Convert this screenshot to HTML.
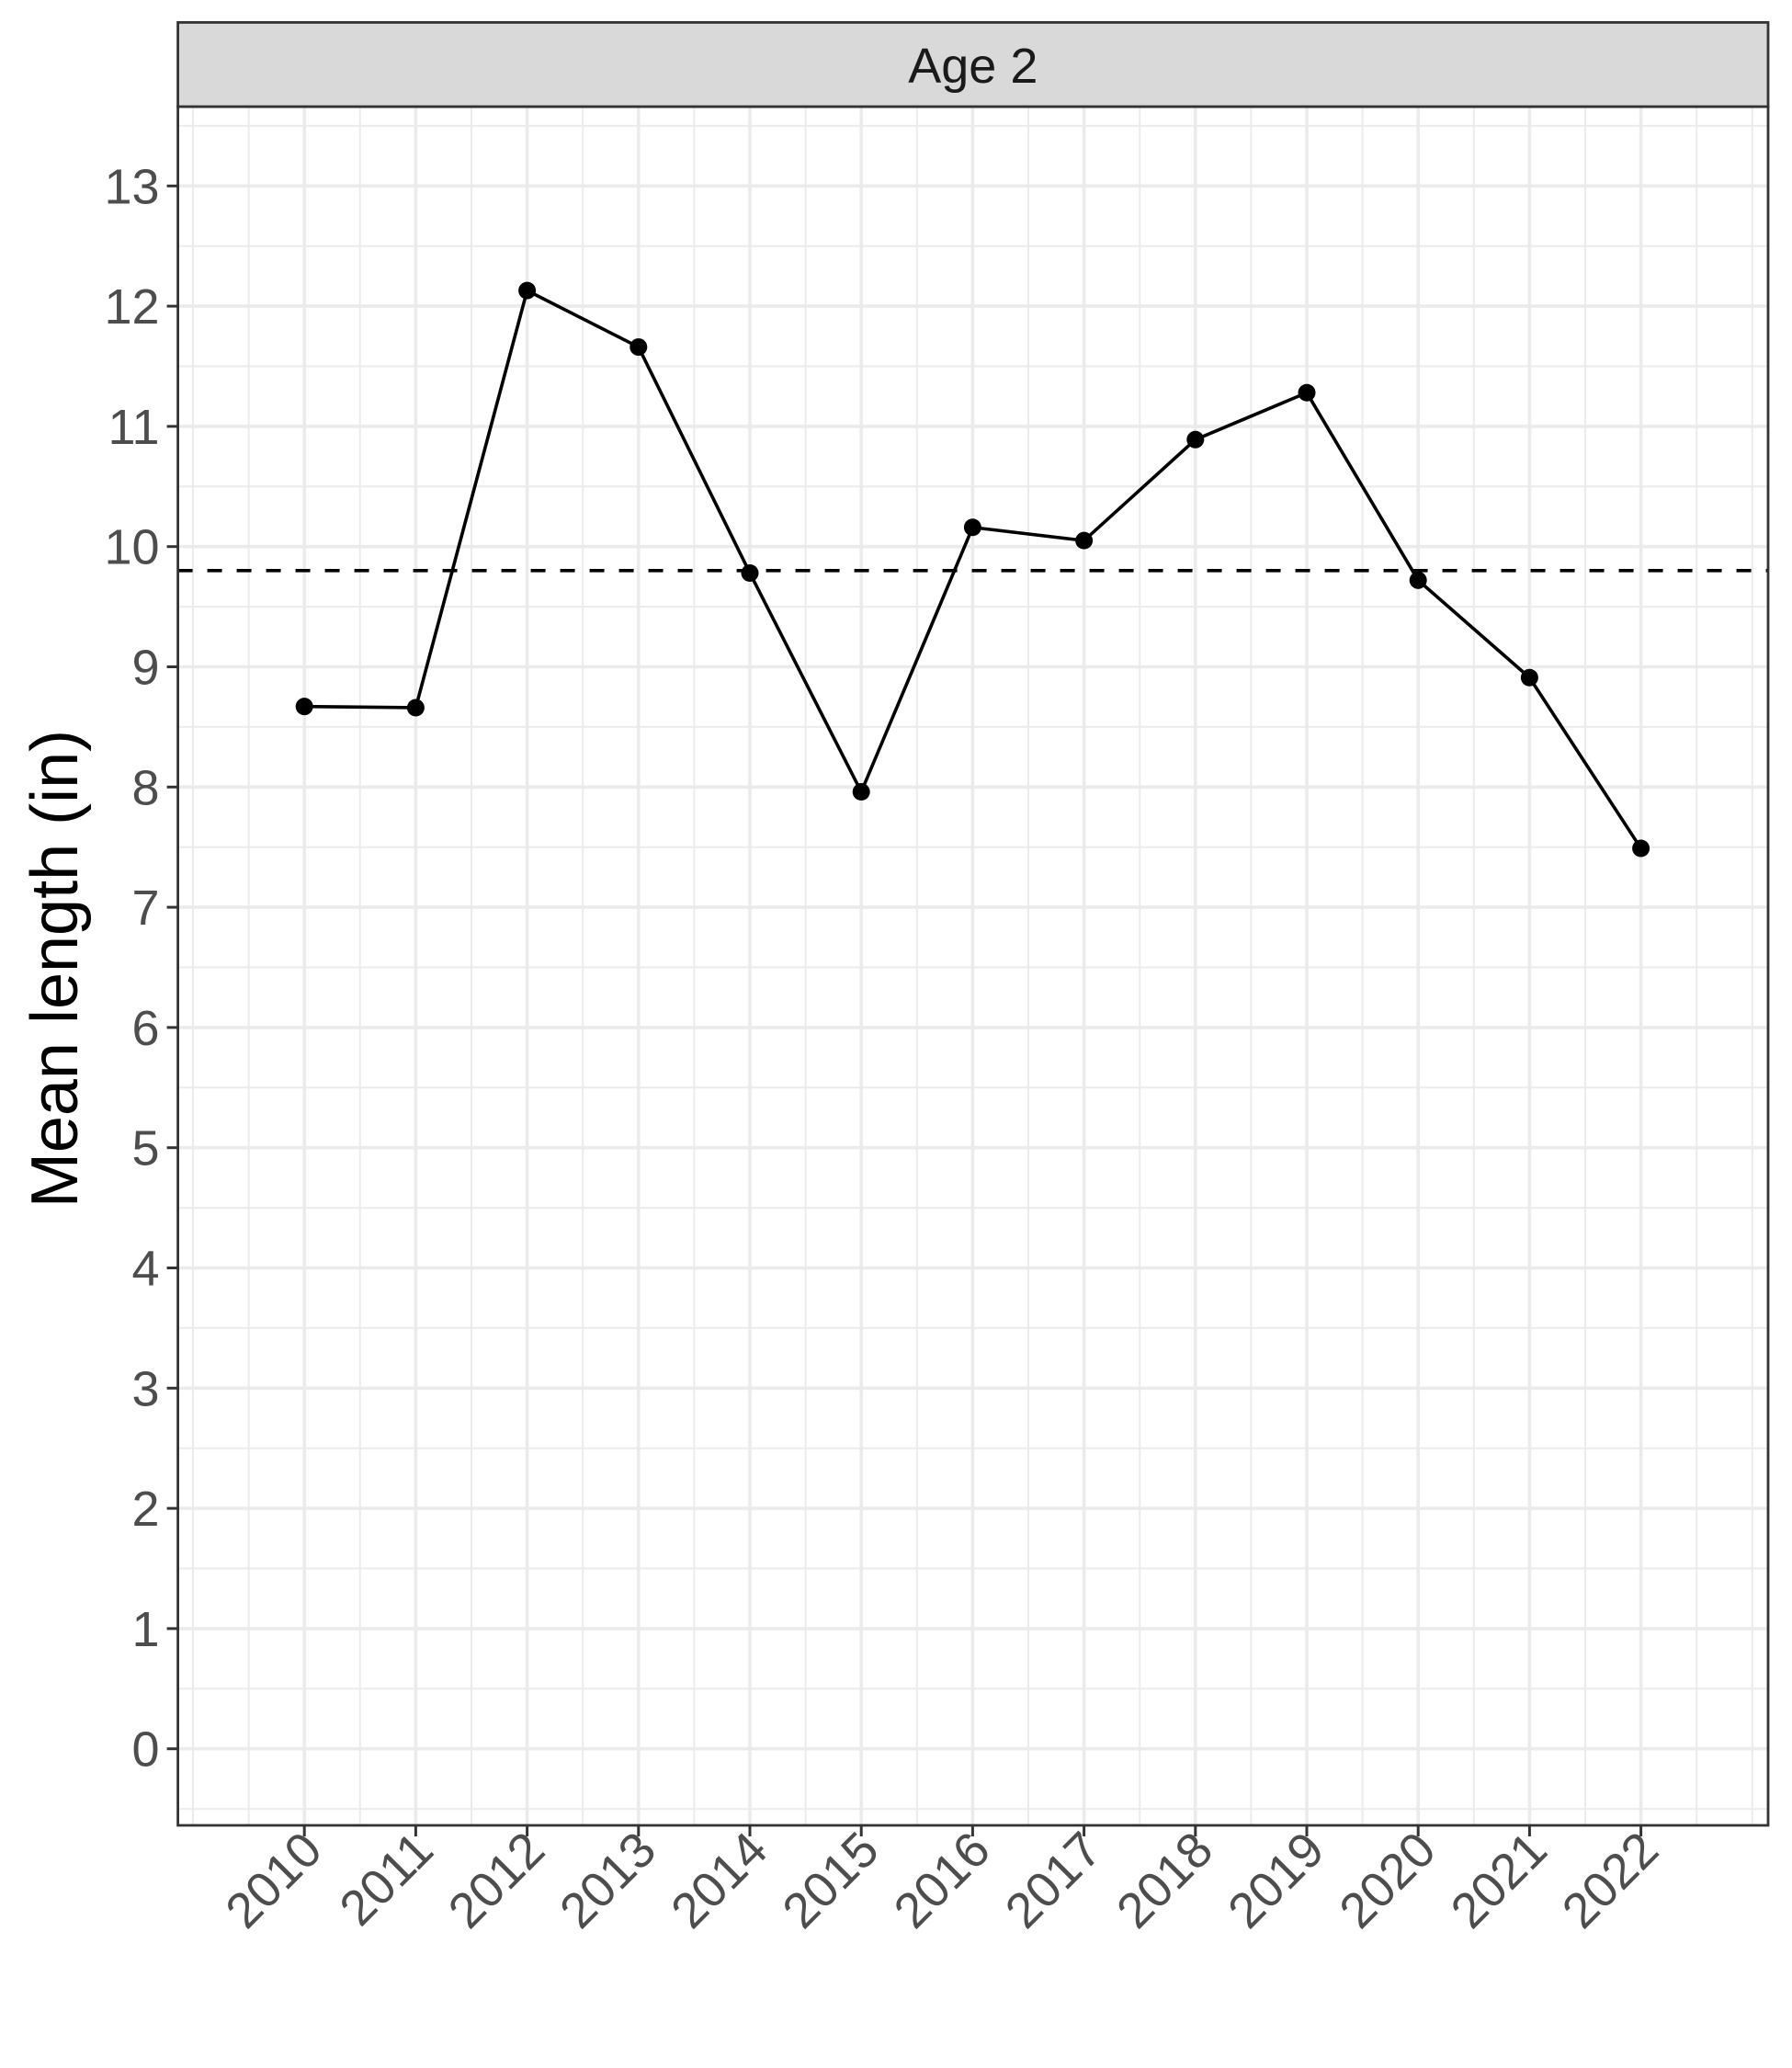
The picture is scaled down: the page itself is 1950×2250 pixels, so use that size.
<!DOCTYPE html>
<html><head><meta charset="utf-8"><style>body{margin:0;background:#fff}svg{display:block;font-family:"Liberation Sans",Arial,sans-serif}</style></head>
<body>
<svg id="chart" width="1950" height="2250" viewBox="0 0 1950 2250" xmlns="http://www.w3.org/2000/svg">
<rect x="0" y="0" width="1950" height="2250" fill="#fff"/>
<g id="grid"></g>
<g id="marks"></g>
<rect x="193.6" y="116" width="1730.4" height="1870" fill="none" stroke="#333" stroke-width="2.8"/>
<rect x="193.6" y="24.4" width="1730.4" height="91.6" fill="#d9d9d9" stroke="#333" stroke-width="2.8"/>
<text x="1058.8" y="90" font-size="54" text-anchor="middle" fill="#1a1a1a">Age 2</text>
<text transform="translate(84,1054) rotate(-90)" font-size="72" text-anchor="middle" fill="#000">Mean length (in)</text>
<g id="axes"></g>
</svg>
<script>
const years = [2010,2011,2012,2013,2014,2015,2016,2017,2018,2019,2020,2021,2022];
const meanLength = [8.67,8.66,12.13,11.66,9.78,7.96,10.16,10.05,10.89,11.28,9.72,8.91,7.49];
const yTicks = [0,1,2,3,4,5,6,7,8,9,10,11,12,13];
const referenceLine = [9.8];

const L=193.6,R=1924,T=116,B=1986;
function xs(v){return 331.2+(v-2010)*121.2;}
function ys(v){return 1902.7-v*130.8;}
const NS='http://www.w3.org/2000/svg';
function mk(tag,attrs,parent){const e=document.createElementNS(NS,tag);for(const k in attrs)e.setAttribute(k,attrs[k]);parent.appendChild(e);return e;}
const grid=document.getElementById('grid'),marks=document.getElementById('marks'),axes=document.getElementById('axes');
for(let v=-0.5;v<=13.5;v+=1){const g=mk('line',{x1:L,x2:R,y1:ys(v),y2:ys(v),stroke:'#ebebeb','stroke-width':2},grid);

}
for(let v=2009;v<=2023;v+=0.5){if(years.includes(v))continue;const g=mk('line',{x1:xs(v),x2:xs(v),y1:T,y2:B,stroke:'#ebebeb','stroke-width':2},grid);

}
yTicks.forEach(v=>{const g=mk('line',{x1:L,x2:R,y1:ys(v),y2:ys(v),stroke:'#ebebeb','stroke-width':3.6},grid);


const t=mk('line',{x1:L-12,x2:L,y1:ys(v),y2:ys(v),stroke:'#333','stroke-width':3},axes);


const l=mk('text',{x:L-20,y:ys(v)+19,'font-size':54,'text-anchor':'end',fill:'#4d4d4d'},axes);l.textContent=v;

});
years.forEach(v=>{const g=mk('line',{x1:xs(v),x2:xs(v),y1:T,y2:B,stroke:'#ebebeb','stroke-width':3.6},grid);


const t=mk('line',{x1:xs(v),x2:xs(v),y1:B,y2:B+12,stroke:'#333','stroke-width':3},axes);


const l=mk('text',{transform:`translate(${xs(v)+22},${B+30}) rotate(-45)`,'font-size':54,'text-anchor':'end',fill:'#4d4d4d'},axes);l.textContent=v;

});
const rl=mk('line',{x1:L,x2:R,y1:ys(referenceLine[0]),y2:ys(referenceLine[0]),stroke:'#000','stroke-width':3.6,'stroke-dasharray':'16 16'},marks);


const pl=mk('polyline',{points:years.map((y,i)=>xs(y)+','+ys(meanLength[i])).join(' '),fill:'none',stroke:'#000','stroke-width':3.6},marks);


years.forEach((y,i)=>{const c=mk('circle',{cx:xs(y),cy:ys(meanLength[i]),r:9.5,fill:'#000'},marks);

});
</script>
</body></html>
